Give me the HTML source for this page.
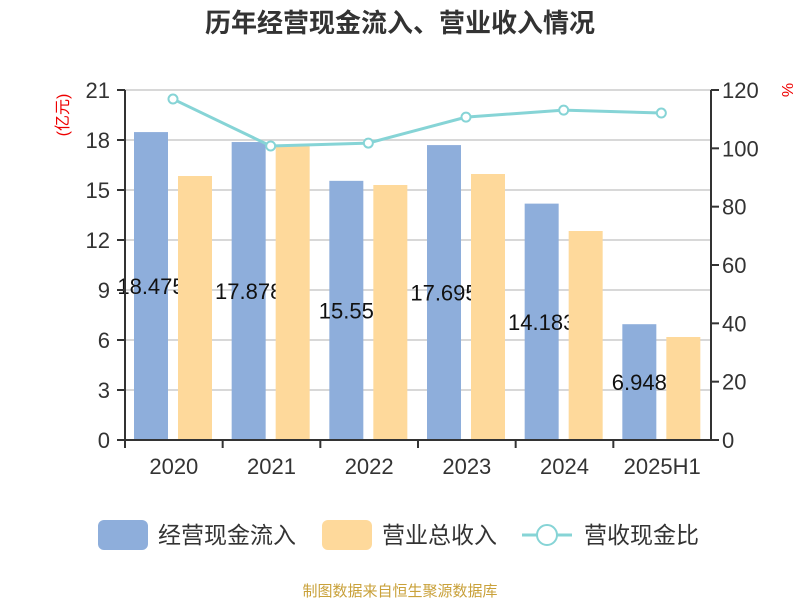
<!DOCTYPE html>
<html><head><meta charset="utf-8"><style>
body{margin:0;background:#fff;font-family:"Liberation Sans","Noto Sans CJK SC",sans-serif;}
</style></head><body>
<svg id="c" width="800" height="600" xmlns="http://www.w3.org/2000/svg" font-family="Liberation Sans, Noto Sans CJK SC, sans-serif">
<text x="400" y="32" text-anchor="middle" font-size="26" font-weight="bold" fill="#333">历年经营现金流入、营业收入情况</text>
<text transform="translate(68,115) rotate(-90)" text-anchor="middle" font-size="16" fill="#e00">(亿元)</text>
<text transform="translate(782,90) rotate(90)" text-anchor="middle" font-size="16" fill="#e00">%</text>
<g id="grid"></g><g id="bars"></g><g id="labels"></g><g id="bars2"></g><g id="axes"></g><g id="line"></g>
<g>
<rect x="98" y="520" width="50" height="30" rx="6" fill="#8eaedb"/>
<text x="158" y="543" font-size="23" fill="#333">经营现金流入</text>
<rect x="322" y="520" width="50" height="30" rx="6" fill="#fed99b"/>
<text x="382" y="543" font-size="23" fill="#333">营业总收入</text>
<line x1="522" y1="535" x2="572" y2="535" stroke="#86d4d6" stroke-width="3"/>
<circle cx="547" cy="535" r="10" fill="#fff" stroke="#86d4d6" stroke-width="2"/>
<text x="584" y="543" font-size="23" fill="#333">营收现金比</text>
</g>
<text x="400" y="596" text-anchor="middle" font-size="15" fill="#c9a13a">制图数据来自恒生聚源数据库</text>
</svg>
<script>
const categories=["2020","2021","2022","2023","2024","2025H1"];
const cashInflow=[18.475,17.878,15.55,17.695,14.183,6.948];
const revenue=[15.84,17.64,15.3,15.96,12.54,6.18];
const ratio=[116.9,100.8,101.8,110.7,113.1,112.1];
const leftTicks=[0,3,6,9,12,15,18,21];
const rightTicks=[0,20,40,60,80,100,120];
const NS="http://www.w3.org/2000/svg";
const L=125,R=711,T=90,B=440;
const yL=v=>B-(v/21)*(B-T);
const yR=v=>B-(v/120)*(B-T);
const bw=(R-L)/categories.length;
const xC=i=>L+bw*(i+0.5);
function mk(p,t,a){const e=document.createElementNS(NS,t);for(const k in a)e.setAttribute(k,a[k]);document.getElementById(p).appendChild(e);return e;}
leftTicks.forEach(v=>{
 if(v>0){const g=mk('grid','line',{x1:L,x2:R,y1:yL(v),y2:yL(v),stroke:'#ccc','stroke-width':1.5});
 
 }
 const t=mk('axes','text',{x:110,y:yL(v)+8,'text-anchor':'end','font-size':22,fill:'#333'});t.textContent=v;
 
 
 const tk=mk('axes','line',{x1:L-8,x2:L,y1:yL(v),y2:yL(v),stroke:'#333','stroke-width':2});
 
 
});
rightTicks.forEach(v=>{
 const t=mk('axes','text',{x:722,y:yR(v)+8,'text-anchor':'start','font-size':22,fill:'#333'});t.textContent=v;
 
 
 const tk=mk('axes','line',{x1:R,x2:R+8,y1:yR(v),y2:yR(v),stroke:'#333','stroke-width':2});
 
 
});
let a=mk('axes','line',{x1:L,x2:L,y1:T,y2:B,stroke:'#333','stroke-width':2});


a=mk('axes','line',{x1:R,x2:R,y1:T,y2:B,stroke:'#333','stroke-width':2});


a=mk('axes','line',{x1:L,x2:R,y1:B,y2:B,stroke:'#333','stroke-width':2});


categories.forEach((c,i)=>{
 const x0=L+bw*i;
 const tk=mk('axes','line',{x1:x0,x2:x0,y1:B,y2:B+8,stroke:'#333','stroke-width':2});
 
 
 const t=mk('axes','text',{x:xC(i),y:474,'text-anchor':'middle','font-size':22,fill:'#333'});t.textContent=c;
 
 
 const b1=mk('bars','rect',{x:x0+9,y:yL(cashInflow[i]),width:34,height:B-yL(cashInflow[i]),fill:'#8eaedb'});
 
 
 const lb=mk('labels','text',{x:x0+26,y:(yL(cashInflow[i])+B)/2+8,'text-anchor':'middle','font-size':22,fill:'#111'});lb.textContent=cashInflow[i];
 
 
 const b2=mk('bars2','rect',{x:x0+53,y:yL(revenue[i]),width:34,height:B-yL(revenue[i]),fill:'#fed99b'});
 
 
});
const pl=mk('line','polyline',{points:ratio.map((v,i)=>(L+bw*i+48)+','+yR(v)).join(' '),fill:'none',stroke:'#86d4d6','stroke-width':3});


ratio.forEach((v,i)=>{
 const c=mk('line','circle',{cx:L+bw*i+48,cy:yR(v),r:4.5,fill:'#fff',stroke:'#86d4d6','stroke-width':2});
 
 
});
</script>
</body></html>
